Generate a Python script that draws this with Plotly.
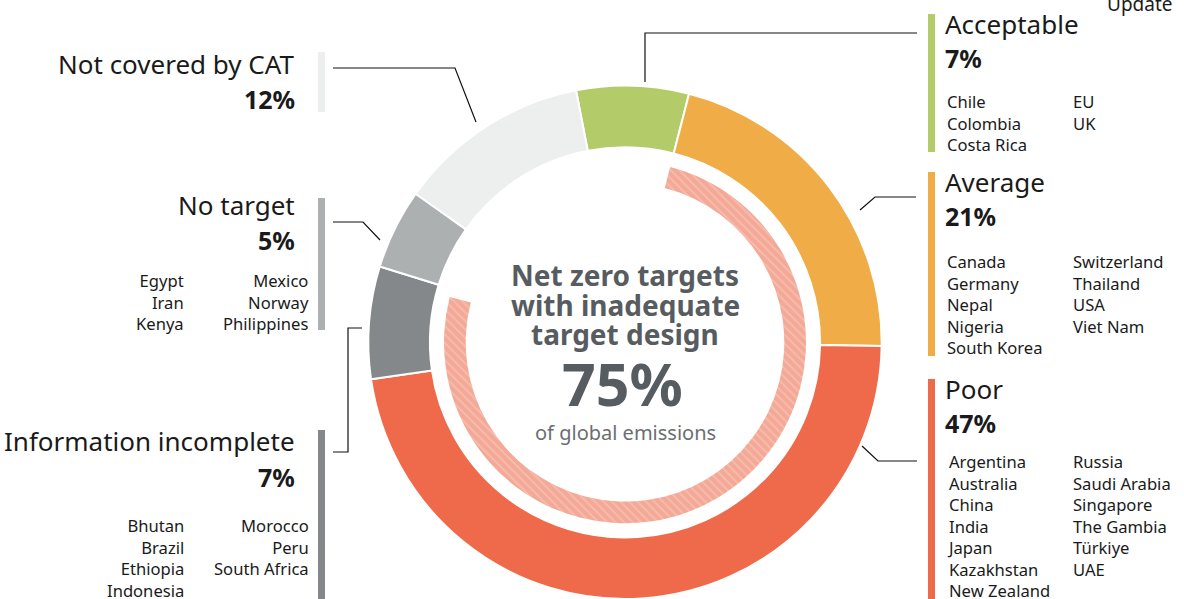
import plotly.graph_objects as go

# Net zero target design ratings, share of global emissions (%)
categories = ["Acceptable", "Average", "Poor", "Information incomplete",
              "No target", "Not covered by CAT"]
shares = [7, 21, 47, 7, 5, 12]
colors = ["#B3CB68", "#F0AD47", "#EF6A4B", "#85888A", "#ADB0B0", "#EDEEEE"]

# inner hatched arc: net zero targets with inadequate design
inadequate_share = 75
other_share = 25

acceptable_countries = [["Chile", "Colombia", "Costa Rica"], ["EU", "UK"]]
average_countries = [["Canada", "Germany", "Nepal", "Nigeria", "South Korea"],
                     ["Switzerland", "Thailand", "USA", "Viet Nam"]]
poor_countries = [["Argentina", "Australia", "China", "India", "Japan",
                   "Kazakhstan", "New Zealand"],
                  ["Russia", "Saudi Arabia", "Singapore", "The Gambia",
                   "Türkiye", "UAE"]]
incomplete_countries = [["Bhutan", "Brazil", "Ethiopia", "Indonesia"],
                        ["Morocco", "Peru", "South Africa"]]
no_target_countries = [["Egypt", "Iran", "Kenya"],
                       ["Mexico", "Norway", "Philippines"]]
not_covered_countries = [[], []]

W, H = 1184, 599
FONT = "Noto Sans"
DARK = "#1a1a1a"

START = -11  # first slice starts just left of 12 o'clock

fig = go.Figure()

# outer ring
fig.add_trace(go.Pie(
    labels=categories, values=shares, sort=False, direction="clockwise",
    rotation=START, hole=0.76,
    marker=dict(colors=colors, line=dict(color="white", width=2)),
    textinfo="none", hoverinfo="label+percent", showlegend=False,
    domain=dict(x=[(625 - 257) / W, (625 + 257) / W], y=[0, 0.857]),
))

# inner hatched arc (75%)
inner_start = START + shares[0] / sum(shares) * 360
cy = 599 - 256.7
fig.add_trace(go.Pie(
    labels=["Inadequate target design", "Other"],
    values=[inadequate_share, other_share], sort=False, direction="clockwise",
    rotation=inner_start, hole=0.88,
    marker=dict(colors=["#F4A997", "rgba(0,0,0,0)"],
                line=dict(width=0),
                pattern=dict(shape=["\\", ""], fgcolor="#F7BDB0",
                             bgcolor=["#F4A997", "rgba(0,0,0,0)"],
                             size=6, solidity=0.3)),
    textinfo="none", hoverinfo="skip", showlegend=False,
    domain=dict(x=[(625 - 181) / W, (625 + 181) / W],
                y=[(H - cy - 181) / H, (H - cy + 181) / H]),
))

annotations = []
shapes = []


def add_block(name, share, color, cols, side, bar_y, title_y, pct_y, list_y):
    if side == "right":
        bar_x = 928
        tx, anchor = 943, "left"
        col_x = [946, 1072]
    else:
        bar_x = 318
        tx, anchor = 297, "right"
        col_x = [185, 310]
    shapes.append(dict(type="rect", xref="x", yref="y",
                       x0=bar_x, x1=bar_x + 7, y0=bar_y[0], y1=bar_y[1],
                       fillcolor=color, line=dict(width=0), layer="below"))
    annotations.append(dict(x=tx, y=title_y, text=name, xanchor=anchor,
                            yanchor="middle", showarrow=False,
                            font=dict(family=FONT, size=26, color=DARK)))
    annotations.append(dict(x=tx, y=pct_y, text=f"<b>{share}%</b>",
                            xanchor=anchor, yanchor="middle", showarrow=False,
                            font=dict(family=FONT, size=25, color=DARK)))
    for cx, names in zip(col_x, cols):
        if not names:
            continue
        annotations.append(dict(x=cx, y=list_y - 13, text="<br>".join(names),
                                xanchor=anchor, yanchor="top", align=anchor,
                                showarrow=False, borderpad=0,
                                font=dict(family=FONT, size=16.6, color=DARK)))


add_block(categories[0], shares[0], colors[0], acceptable_countries, "right",
          (14, 152), 24, 58, 102)
add_block(categories[1], shares[1], colors[1], average_countries, "right",
          (172, 356), 182, 216, 262)
add_block(categories[2], shares[2], colors[2], poor_countries, "right",
          (379, 600), 389, 423, 462)
add_block(categories[5], shares[5], colors[5], not_covered_countries, "left",
          (52, 112), 64, 99, 0)
add_block(categories[4], shares[4], colors[4], no_target_countries, "left",
          (198, 330), 205, 240, 281)
add_block(categories[3], shares[3], colors[3], incomplete_countries, "left",
          (430, 600), 441, 477, 526)

# leader lines
leaders = [
    [(645, 82), (645, 33), (917, 33)],
    [(860, 210), (875, 197), (916, 197)],
    [(862, 446), (878, 461), (917, 461)],
    [(476, 122), (455, 68), (333, 68)],
    [(380, 240), (363, 222), (333, 222)],
    [(362, 328), (348, 328), (348, 452), (333, 452)],
]
for pts in leaders:
    path = "M " + " L ".join(f"{x},{y}" for x, y in pts)
    shapes.append(dict(type="path", xref="x", yref="y", path=path,
                       line=dict(color="#111111", width=1.2)))

# centre text
GREY = "#575C60"
for i, line in enumerate(["Net zero targets", "with inadequate", "target design"]):
    annotations.append(dict(x=625, y=275 + i * 29.5, text=f"<b>{line}</b>",
                            showarrow=False, xanchor="center", yanchor="middle",
                            borderpad=0,
                            font=dict(family=FONT, size=28, color=GREY)))
annotations += [
    dict(x=622, y=383, text=f"<b>{inadequate_share}%</b>", showarrow=False,
         xanchor="center", yanchor="middle",
         font=dict(family=FONT, size=59, color=GREY)),
    dict(x=625, y=432, text="of global emissions", showarrow=False,
         xanchor="center", yanchor="middle",
         font=dict(family=FONT, size=20, color="#6A6E71")),
    dict(x=1140, y=4, text="Update", showarrow=False, xanchor="center",
         yanchor="middle", font=dict(family=FONT, size=19, color=DARK)),
]

fig.update_layout(
    width=W, height=H, margin=dict(l=0, r=0, t=0, b=0),
    paper_bgcolor="white", plot_bgcolor="rgba(0,0,0,0)",
    xaxis=dict(range=[0, W], visible=False, fixedrange=True),
    yaxis=dict(range=[H, 0], visible=False, fixedrange=True),
    shapes=shapes, annotations=annotations, showlegend=False,
)

# drop the default page margin so the figure sits at the window's corner
fig.write_html("out.html", config={"displayModeBar": False},
               post_script="document.body.style.margin='0';"
                           "document.body.style.overflow='hidden';")
